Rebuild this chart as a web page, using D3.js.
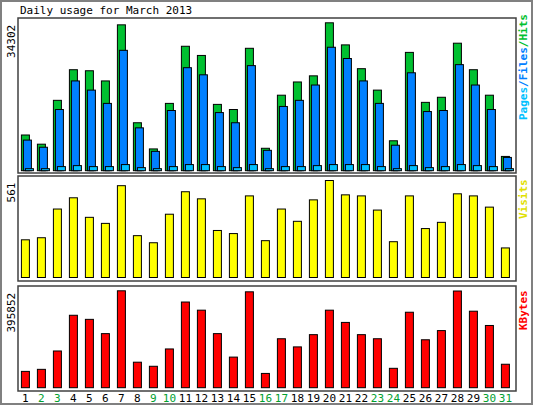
<!DOCTYPE html>
<html><head><meta charset="utf-8">
<script src="https://cdn.jsdelivr.net/npm/d3@7"></script>
<style>body{margin:0;background:#fff}text{font-family:"DejaVu Sans Mono",monospace;font-size:11px}</style>
</head><body><div id="chart"></div>
<script>
var days = d3.range(1, 32);
var weekend = [2, 3, 9, 10, 16, 17, 23, 24, 30, 31];
var hits = [8280,6150,16320,23420,23180,20820,33830,11120,5050,15610,28860,26730,15380,14190,28390,5200,17510,20580,22000,34302,29180,23660,18690,6940,27440,15850,17030,29570,23420,17510,3310];
var files = [7100,5440,14190,20820,18690,15610,27920,9940,4490,13960,23890,22240,13480,11120,24370,4730,14900,16320,19870,28630,26020,20820,15610,5910,22710,13720,13960,24600,19870,14190,3080];
var pages = [470,470,950,1180,950,950,1420,710,470,950,1420,1420,950,710,1420,470,950,950,1180,1420,1420,1420,950,470,1180,710,950,1420,1180,950,470];
var visits = [218,230,396,461,348,313,531,242,201,366,496,455,272,254,472,213,396,325,449,561,478,472,390,207,472,283,319,484,472,407,171];
var kbytes = [66670,75000,150000,295900,279200,220900,395852,104200,87500,158300,350000,316700,220900,125000,391700,58300,200000,166700,216700,316700,266700,216700,200000,79200,308300,195800,233300,395000,312500,254200,95800];

var W = 533, H = 405;
var svg = d3.select("#chart").append("svg").attr("width", W).attr("height", H);
svg.append("rect").attr("x", 1).attr("y", 1).attr("width", W - 2).attr("height", H - 2)
    .attr("fill", "#fff").attr("stroke", "#808080").attr("stroke-width", 2);

svg.append("text").attr("x", 20).attr("y", 14).text("Daily usage for March 2013");

var x = d3.scaleLinear().domain([1, 31]).range([21.4, 501.4]);
var bw = 8;

function panel(top, bottom, base, maxTop, max, label, parts) {
    svg.append("rect").attr("x", 18).attr("y", top).attr("width", 498).attr("height", bottom - top)
        .attr("fill", "#fff").attr("stroke", "#404040").attr("stroke-width", 1.5);
    var y = d3.scaleLinear().domain([0, max]).range([base, maxTop]);
    svg.append("text").attr("transform", "translate(15," + (maxTop + 2) + ") rotate(-90)")
        .attr("text-anchor", "end").text(label);
    return y;
}
function bars(data, y, off, color) {
    svg.append("g").selectAll("rect").data(data).enter().append("rect")
        .attr("x", function (d, i) { return x(days[i]) + off; })
        .attr("width", bw)
        .attr("y", function (d) { return y(d); })
        .attr("height", function (d) { return y(0) - y(d); })
        .attr("fill", color).attr("stroke", "#000").attr("stroke-width", 1);
}
function sideLabel(yPos, parts) {
    var t = svg.append("text").attr("transform", "translate(527," + yPos + ") rotate(-90)")
        .attr("text-anchor", "start").style("font-weight", "bold");
    parts.forEach(function (p) { t.append("tspan").attr("fill", p[1]).text(p[0]); });
}

// hits / files / pages
var y1 = panel(18, 173, 170.7, 22.8, 34302, "34302");
bars(hits, y1, 0, "#00c030");
bars(files, y1, 2, "#0080ff");
bars(pages, y1, 4, "#00c0ff");
sideLabel(120, [["Pages", "#00c0ff"], ["/", "#0080ff"], ["Files", "#0080ff"], ["/", "#00c030"], ["Hits", "#00c030"]]);

// visits
var y2 = panel(176, 281, 277.5, 180.5, 561, "561");
bars(visits, y2, 0, "#ffff00");
sideLabel(219, [["Visits", "#e0e000"]]);

// kbytes
var y3 = panel(286, 391, 387.7, 290.8, 395852, "395852");
bars(kbytes, y3, 0, "#ff0000");
sideLabel(330, [["KBytes", "#ff0000"]]);

svg.append("g").selectAll("text").data(days).enter().append("text")
    .attr("x", function (d) { return x(d) + bw / 2; })
    .attr("y", 402).attr("text-anchor", "middle")
    .attr("fill", function (d) { return weekend.indexOf(d) >= 0 ? "#00a030" : "#000"; })
    .text(function (d) { return d; });
</script></body></html>
